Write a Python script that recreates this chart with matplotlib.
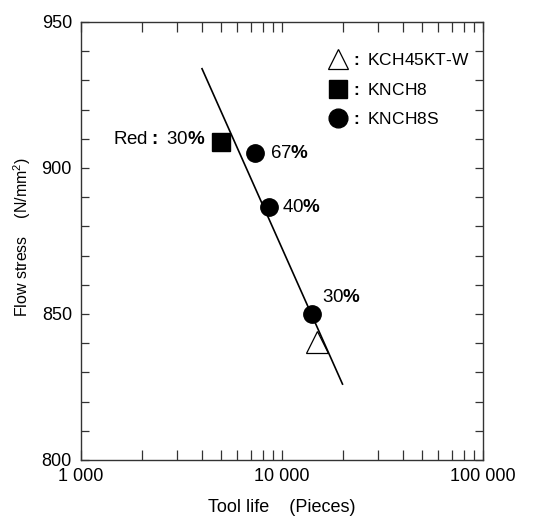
import matplotlib
matplotlib.use("Agg")
import matplotlib.pyplot as plt
from matplotlib.ticker import FixedLocator, NullFormatter, FixedFormatter
from matplotlib.lines import Line2D

plt.rcParams['font.family'] = ['Liberation Sans', 'DejaVu Sans']
plt.rcParams['mathtext.fontset'] = 'custom'
plt.rcParams['mathtext.rm'] = 'Liberation Sans'
plt.rcParams['mathtext.bf'] = 'Liberation Sans:bold'
plt.rcParams['mathtext.default'] = 'regular'

# ---- data ----
tri_life = [15000]
tri_stress = [840.5]

sq_life = [4950]
sq_stress = [909]

circ_life = [7350, 8650, 14100]
circ_stress = [905, 886.5, 850]
circ_labels = ["67", "40", "30"]

fit_life = [4000, 20000]
fit_stress = [934, 826]

xtick_vals = [1000, 10000, 100000]
xtick_labels = ["1 000", "10 000", "100 000"]
ytick_vals = [800, 850, 900, 950]

legend_labels = ["KCH45KT-W", "KNCH8", "KNCH8S"]

fig = plt.figure(figsize=(5.39, 5.16), dpi=100)
ax = fig.add_axes([81/539, 1 - 460/516, (483-81)/539, (460-22)/516])

ax.plot(fit_life, fit_stress, color='black', lw=1.2, zorder=2)
ax.plot(tri_life, tri_stress, linestyle='none', marker='^', ms=15.5,
        mfc='none', mec='black', mew=0.9, zorder=3)
ax.plot(sq_life, sq_stress, linestyle='none', marker='s', ms=13,
        mfc='black', mec='black', zorder=3)
ax.plot(circ_life, circ_stress, linestyle='none', marker='o', ms=12.5,
        mfc='black', mec='black', zorder=3)

fs = 13.5
# annotations
ax.annotate(r"Red$\mathbf{:}$ 30$\mathbf{\%}$", (sq_life[0], sq_stress[0]),
            xytext=(-15, 2), textcoords='offset pixels', ha='right', va='center',
            fontsize=fs)
offsets = [(15, 0), (13, 0), (10, 17)]
for x, y, lab, off in zip(circ_life, circ_stress, circ_labels, offsets):
    ax.annotate(lab + r"$\mathbf{\%}$", (x, y), xytext=off,
                textcoords='offset pixels', ha='left', va='center', fontsize=fs)

ax.set_xscale('log')
ax.set_xlim(1000, 100000)
ax.set_ylim(800, 950)

ax.xaxis.set_major_locator(FixedLocator(xtick_vals))
ax.xaxis.set_major_formatter(FixedFormatter(xtick_labels))
minor = [m * d for d in (1000, 10000) for m in range(2, 10)]
ax.xaxis.set_minor_locator(FixedLocator(minor))
ax.xaxis.set_minor_formatter(NullFormatter())
ax.yaxis.set_major_locator(FixedLocator(ytick_vals))
ax.yaxis.set_minor_locator(FixedLocator(list(range(800, 951, 10))))

for side in ax.spines.values():
    side.set_linewidth(1.0)
    side.set_color('#333333')
ax.tick_params(axis='x', which='both', direction='in', top=True, bottom=True,
               length=7, width=0.9, color='#333333', labelsize=13, pad=6)
ax.tick_params(axis='y', which='both', direction='in', left=True, right=True,
               length=6, width=0.9, color='#333333', labelsize=13, pad=6.5)

ax.set_xlabel("Tool life    (Pieces)", fontsize=13)
ax.set_ylabel("Flow stress    (N/mm$^2$)", fontsize=11.5)
ax.xaxis.set_label_coords(0.5, -0.09)
ax.yaxis.set_label_coords(-0.119, 0.51)

handles = [
    Line2D([], [], linestyle='none', marker='^', ms=15, mfc='none', mec='black', mew=0.9),
    Line2D([], [], linestyle='none', marker='s', ms=13, mfc='black', mec='black'),
    Line2D([], [], linestyle='none', marker='o', ms=13.5, mfc='black', mec='black'),
]
ax.legend(handles, [r"$\mathbf{:}$ " + l for l in legend_labels], loc='upper left',
          bbox_to_anchor=(0.5925, 0.952), frameon=False, fontsize=12.5,
          handlelength=1.2, handletextpad=0.1, labelspacing=0.8, borderpad=0)

fig.savefig("out.png", dpi=100)
